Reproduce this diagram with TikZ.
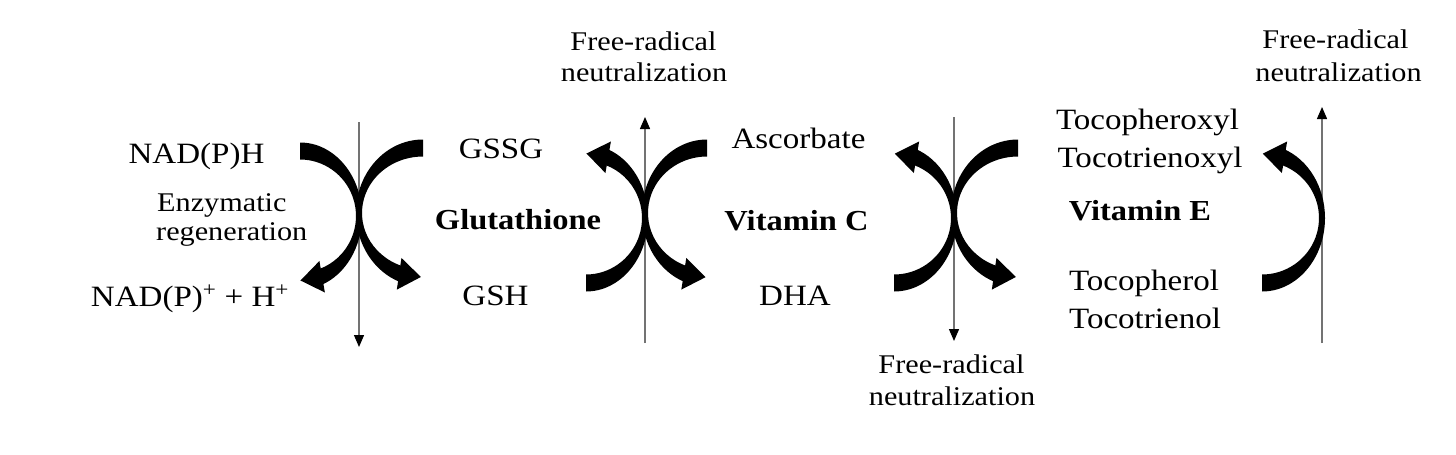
\documentclass[tikz,border=0pt]{standalone}
\usepackage{fontspec}
\setmainfont{Liberation Serif}[FakeStretch=1.12]
\usetikzlibrary{arrows.meta}
% thick tapering curved arrow ")" : blunt end at top, head at bottom; origin = tangent point
\newcommand\crescentarrow[2]{%
  \pgfmathsetmacro\crxo{#1+3}%
  \pgfmathsetmacro\cryo{#2+8.5}%
  \pgfmathsetmacro\crxi{#1-3}%
  \pgfmathsetmacro\cryi{#2-8.5}%
  \pgfmathsetmacro\ciex{-#1+\crxi*cos(70)}%
  \pgfmathsetmacro\ciey{-\cryi*sin(70)}%
  \pgfmathsetmacro\cbx{-#1+#1*cos(70)}%
  \pgfmathsetmacro\cby{-#2*sin(70)}%
  \pgfmathsetmacro\cux{-#1*sin(70)}%
  \pgfmathsetmacro\cuy{-#2*cos(70)}%
  \pgfmathsetmacro\cul{sqrt(\cux*\cux+\cuy*\cuy)}%
  \pgfmathsetmacro\cuxa{\cux/\cul}%
  \pgfmathsetmacro\cuya{\cuy/\cul}%
  \pgfmathsetmacro\cux{\cuxa*cos(12)+\cuya*sin(12)}%
  \pgfmathsetmacro\cuy{-\cuxa*sin(12)+\cuya*cos(12)}%
  \fill (-#1,\cryo) arc[start angle=90,end angle=-70,x radius=\crxo pt,y radius=\cryo pt]
     -- (\ciex,\ciey) arc[start angle=-70,end angle=90,x radius=\crxi pt,y radius=\cryi pt] -- cycle;
  \fill ({\cbx+20*\cux},{\cby+20*\cuy})
     -- ({\cbx-16*\cuy-2*\cux},{\cby+16*\cux-2*\cuy})
     -- ({\cbx+16*\cuy-2*\cux},{\cby-16*\cux-2*\cuy}) -- cycle;
}
\begin{document}
\begin{tikzpicture}[x=1pt,y=1pt,
  lbl/.style={anchor=base,inner sep=0pt,font=\fontsize{29.5}{35}\selectfont},
  sml/.style={anchor=base,inner sep=0pt,font=\fontsize{27}{32}\selectfont},
  bld/.style={anchor=base,inner sep=0pt,font=\fontsize{29}{35}\selectfont\bfseries},
  radline/.style={draw=black!55,line width=1.3pt,-{Triangle[length=12pt,width=10pt,color=black]}}]
\useasboundingbox[fill=white] (0,0) rectangle (1456,-455);

% labels
\node[sml] (fr1a) at (643.5,-50) {Free-radical};
\node[sml] (fr1b) at (644,-81.7) {neutralization};
\node[sml] (fr2a) at (951.5,-373) {Free-radical};
\node[sml] (fr2b) at (952,-405) {neutralization};
\node[sml] (fr3a) at (1335.5,-48.5) {Free-radical};
\node[sml] (fr3b) at (1338.5,-81) {neutralization};
\node[sml,anchor=base west] (enz1) at (157,-211) {Enzymatic};
\node[sml,anchor=base west] (enz2) at (156,-240) {regeneration};
\node[lbl] (nadph) at (196.5,-163) {NAD(P)H};
\node[lbl] (nadp) at (190,-306) {NAD(P)\textsuperscript{+} + H\textsuperscript{+}};
\node[lbl] (gssg) at (501,-158) {GSSG};
\node[bld] (glut) at (518,-229.5) {Glutathione};
\node[lbl] (gsh) at (495.5,-305) {GSH};
\node[lbl] (asc) at (798.5,-148) {Ascorbate};
\node[bld] (vitc) at (796.5,-230) {Vitamin C};
\node[lbl] (dha) at (795,-305) {DHA};
\node[lbl] (toxa) at (1147.5,-129) {Tocopheroxyl};
\node[lbl] (toxb) at (1150,-167) {Tocotrienoxyl};
\node[bld] (vite) at (1140,-220) {Vitamin E};
\node[lbl] (tola) at (1144,-290) {Tocopherol};
\node[lbl] (tolb) at (1145,-328) {Tocotrienol};

% free-radical lines
\coordinate (l1t) at (359,-122); \coordinate (l1b) at (359,-347);
\coordinate (l2b) at (645,-343); \coordinate (l2t) at (645,-117);
\coordinate (l3t) at (954,-117); \coordinate (l3b) at (954,-341);
\coordinate (l4b) at (1322,-343); \coordinate (l4t) at (1322,-107);
\draw[radline] (l1t) -- (l1b);
\draw[radline] (l2b) -- (l2t);
\draw[radline] (l3t) -- (l3b);
\draw[radline] (l4b) -- (l4t);

% curved reaction arrows
\begin{scope}[shift={(359,-216)}] \crescentarrow{59}{65} \end{scope}
\begin{scope}[shift={(359,-213)},xscale=-1] \crescentarrow{64}{65} \end{scope}
\begin{scope}[shift={(645,-218)},yscale=-1] \crescentarrow{59}{65} \end{scope}
\begin{scope}[shift={(645,-213)},xscale=-1] \crescentarrow{62}{65} \end{scope}
\begin{scope}[shift={(954,-218)},yscale=-1] \crescentarrow{60}{65} \end{scope}
\begin{scope}[shift={(954,-213)},xscale=-1] \crescentarrow{64}{65} \end{scope}
\begin{scope}[shift={(1322,-218)},yscale=-1] \crescentarrow{60}{65} \end{scope}
\end{tikzpicture}
\end{document}
